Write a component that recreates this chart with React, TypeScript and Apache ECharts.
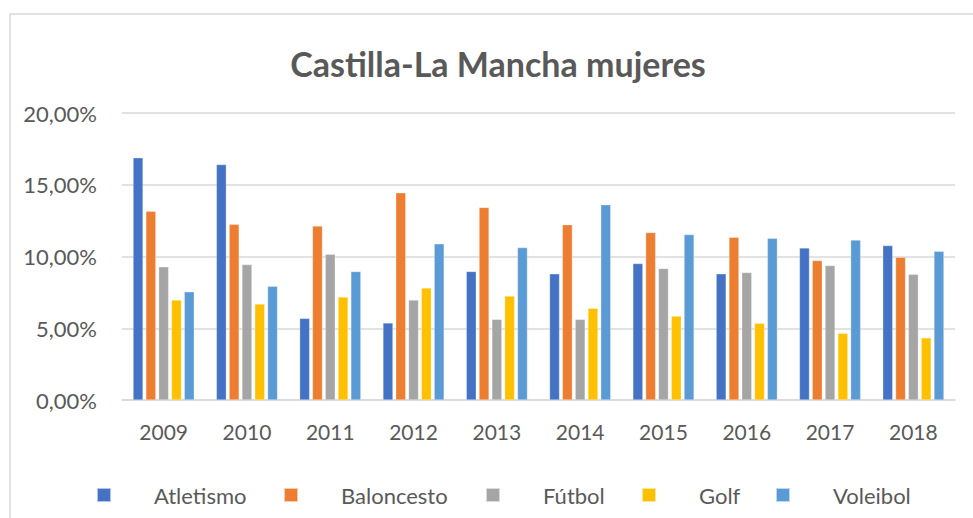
import React, { useEffect, useRef } from "react";
import * as echarts from "echarts";

const years = ["2009", "2010", "2011", "2012", "2013", "2014", "2015", "2016", "2017", "2018"];
const atletismo = [16.88, 16.41, 5.69, 5.37, 8.96, 8.79, 9.51, 8.79, 10.6, 10.76];
const baloncesto = [13.15, 12.24, 12.13, 14.44, 13.42, 12.22, 11.67, 11.34, 9.72, 9.95];
const futbol = [9.28, 9.44, 10.16, 6.97, 5.62, 5.62, 9.17, 8.89, 9.37, 8.77];
const golf = [6.97, 6.69, 7.17, 7.8, 7.24, 6.39, 5.85, 5.35, 4.65, 4.33];
const voleibol = [7.54, 7.92, 8.96, 10.88, 10.62, 13.61, 11.53, 11.27, 11.15, 10.37];

const seriesNames = ["Atletismo", "Baloncesto", "Fútbol", "Golf", "Voleibol"];
const seriesData = [atletismo, baloncesto, futbol, golf, voleibol];
const colors = ["#4472C4", "#ED7D31", "#A5A5A5", "#FFC000", "#5B9BD5"];
const legendLeft = [91, 278, 480, 636, 770];

const FONT = "Lato, 'Open Sans', sans-serif";
const TEXT = "#595959";

export default function App() {
  const ref = useRef<HTMLDivElement>(null);
  useEffect(() => {
    document.body.style.margin = "0";
    if (!ref.current) return;
    const chart = echarts.init(ref.current, undefined, { renderer: "svg" });
    chart.setOption({
      animation: false,
      color: colors,
      textStyle: { fontFamily: FONT },
      title: {
        text: "Castilla-La Mancha mujeres",
        left: 493,
        textAlign: "center",
        top: 41,
        textStyle: { fontFamily: FONT, fontSize: 34, fontWeight: "bold", color: TEXT },
      },
      graphic: [
        {
          type: "rect",
          shape: { x: 10, y: 14, width: 1000, height: 600 },
          style: { fill: "none", stroke: "#d9d9d9", lineWidth: 1.5 },
          silent: true,
        },
      ],
      legend: seriesNames.map((n, i) => ({
        data: [n],
        left: legendLeft[i],
        top: 479,
        itemWidth: 14,
        itemHeight: 14,
        icon: "rect",
        textStyle: { fontFamily: FONT, fontSize: 22, color: TEXT, padding: [0, 0, 0, 38] },
      })),
      grid: { left: 122, right: 18, top: 113, bottom: 118, containLabel: false },
      xAxis: {
        type: "category",
        data: years,
        axisLine: { lineStyle: { color: "#d9d9d9", width: 1.5 } },
        axisTick: { show: false },
        axisLabel: { fontFamily: FONT, fontSize: 21, color: TEXT, margin: 21 },
      },
      yAxis: {
        type: "value",
        min: 0,
        max: 20,
        interval: 5,
        axisLine: { show: false },
        axisTick: { show: false },
        splitLine: { lineStyle: { color: "#d9d9d9", width: 1.5 } },
        axisLabel: {
          fontFamily: FONT,
          fontSize: 22,
          color: TEXT,
          margin: 25,
          formatter: (v: number) => v.toFixed(2).replace(".", ",") + "%",
        },
      },
      series: seriesNames.map((n, i) => ({
        name: n,
        type: "bar",
        data: seriesData[i],
        barWidth: 10,
        barGap: "28%",
        itemStyle: { color: colors[i], borderColor: "rgba(255,255,255,0.6)", borderWidth: 0.5 },
      })),
    });
    return () => chart.dispose();
  }, []);
  return <div ref={ref} style={{ width: 973, height: 518 }} />;
}
